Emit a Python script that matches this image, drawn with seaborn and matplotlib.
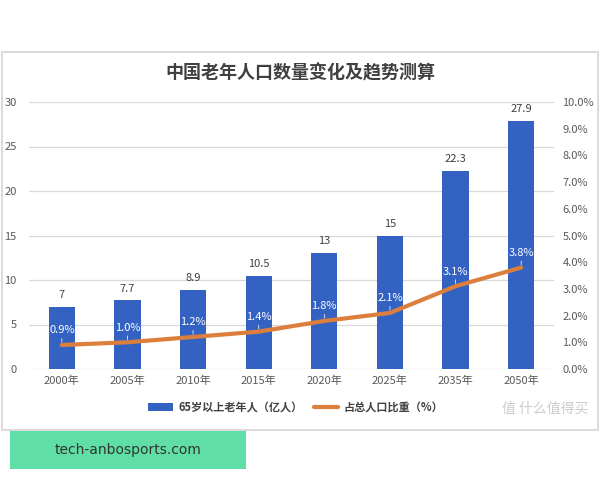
import numpy as np
import pandas as pd
import matplotlib
matplotlib.use("Agg")
import matplotlib.pyplot as plt
from matplotlib.patches import Rectangle, Patch
from matplotlib.lines import Line2D
from matplotlib.ticker import FuncFormatter, MultipleLocator
import seaborn as sns

years = ["2000年", "2005年", "2010年", "2015年", "2020年", "2025年", "2035年", "2050年"]
elderly = [7, 7.7, 8.9, 10.5, 13, 15, 22.3, 27.9]
share_pct = [0.9, 1.0, 1.2, 1.4, 1.8, 2.1, 3.1, 3.8]
bar_labels = ["7", "7.7", "8.9", "10.5", "13", "15", "22.3", "27.9"]

title = "中国老年人口数量变化及趋势测算"
legend_bar = "65岁以上老年人（亿人）"
legend_line = "占总人口比重（%）"

sns.set_theme(style="white")
plt.rcParams["font.family"] = ["Noto Sans CJK SC", "DejaVu Sans"]

df = pd.DataFrame({"year": years, "elderly": elderly, "pct": share_pct})

fig = plt.figure(figsize=(6, 4.8), dpi=100)
fig.patch.set_facecolor("white")

# outer chart border
fig.patches.append(Rectangle((1.5 / 600, 1 - 430 / 480), 596 / 600, 378 / 480,
                             transform=fig.transFigure, fill=False,
                             edgecolor="#d4d4d4", lw=1.2))
# green banner
fig.patches.append(Rectangle((10 / 600, 1 - 469 / 480), 236 / 600, 38 / 480,
                             transform=fig.transFigure, facecolor="#5fdfa6",
                             edgecolor="none"))
fig.text(128 / 600, 1 - 450 / 480, "tech-anbosports.com", ha="center", va="center",
         fontsize=10, color="#333333", family=["DejaVu Sans"])

ax = fig.add_axes([29 / 600, 1 - 369 / 480, 525 / 600, 267 / 480])
sns.barplot(data=df, x="year", y="elderly", ax=ax, color="#3462c2",
            width=0.4, saturation=1, edgecolor="none")
ax.set_ylim(0, 30)
ax.yaxis.set_major_locator(MultipleLocator(5))
ax.set_xlim(-0.5, len(years) - 0.5)
ax.grid(axis="y", color="#d9d9d9", lw=0.9)
ax.set_axisbelow(True)
for s in ax.spines.values():
    s.set_visible(False)
ax.tick_params(axis="both", length=0, labelsize=8, colors="#595959")
ax.tick_params(axis="y", pad=9)
ax.tick_params(axis="x", pad=5)
ax.set_xlabel("")
ax.set_ylabel("")

for i, (v, lab) in enumerate(zip(elderly, bar_labels)):
    ax.annotate(lab, (i, v), xytext=(0, 5), textcoords="offset points",
                ha="center", va="bottom", fontsize=8, color="#404040")

ax2 = ax.twinx()
sns.lineplot(x=np.arange(len(years)), y=share_pct, ax=ax2, color="#dc7f3c",
             lw=3, solid_capstyle="round", zorder=5)
ax2.set_ylim(0, 10)
ax2.yaxis.set_major_locator(MultipleLocator(1))
ax2.yaxis.set_major_formatter(FuncFormatter(lambda v, p: f"{v:.1f}%"))
for s in ax2.spines.values():
    s.set_visible(False)
ax2.tick_params(axis="y", length=0, labelsize=8, colors="#595959", pad=6)
ax2.set_ylabel("")

for i, v in enumerate(share_pct):
    ax2.annotate(f"{v:.1f}%", (i, v), xytext=(0, 7), textcoords="offset points",
                 ha="center", va="bottom", fontsize=8, color="white",
                 arrowprops=dict(arrowstyle="-", color="#e8eefa", lw=0.6,
                                 shrinkA=0, shrinkB=2))

fig.text(0.5, 1 - 73 / 480, title, ha="center", va="center", fontsize=13,
         color="#404040", fontweight="bold")

handles = [Patch(facecolor="#3462c2", edgecolor="none"),
           Line2D([0], [0], color="#dc7f3c", lw=3)]
fig.legend(handles, [legend_bar, legend_line], loc="center",
           bbox_to_anchor=(296 / 600, 1 - 407 / 480), ncol=2, frameon=False,
           prop={"size": 8, "weight": "bold"}, handlelength=2.2,
           columnspacing=1.0, handletextpad=0.5, labelcolor="#404040")

fig.text(545 / 600, 1 - 409 / 480, "值 什么值得买", ha="center", va="center",
         fontsize=10, color="#cccccc")

fig.savefig("out.png", dpi=100)
